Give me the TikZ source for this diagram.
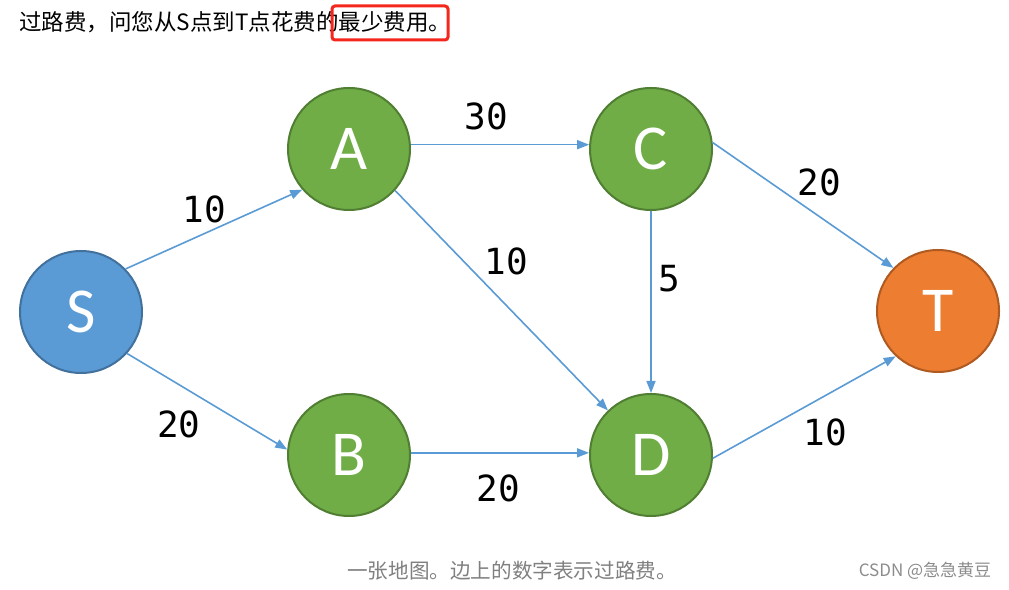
\documentclass[tikz,border=0pt]{standalone}
\usepackage{fontspec}
\setmainfont{Noto Sans CJK SC}
\newfontfamily\letterfont{Carlito}
\newfontfamily\numfont{DejaVu Sans Mono}
\usetikzlibrary{arrows.meta}
\definecolor{sblue}{HTML}{5B9BD5}
\definecolor{sblueline}{HTML}{41719C}
\definecolor{vgreen}{HTML}{70AD47}
\definecolor{vgreenline}{HTML}{507E32}
\definecolor{torange}{HTML}{ED7D31}
\definecolor{torangeline}{HTML}{AE5A21}
\definecolor{boxred}{HTML}{F5271C}

\begin{document}
\begin{tikzpicture}[x=1pt,y=1pt,>={Triangle[length=12pt,width=9pt]}]
            \tikzstyle{m}=[circle,draw,line width=2pt,minimum size=122pt,inner sep=0pt,text=white,font=\letterfont\fontsize{64}{64}\selectfont]
            \tikzstyle{g}=[m,fill=vgreen,draw=vgreenline]
            \tikzstyle{lbl}=[font=\numfont\fontsize{36}{36}\selectfont]
            \tikzstyle{lnk}=[->,sblue,line width=1.6pt]

            \fill[white] (0,0) rectangle (1009,589);
            \useasboundingbox (0,0) rectangle (1009,589);

            \node [anchor=west,inner sep=0pt,font=\fontsize{22.5}{22.5}\selectfont] (title) at (19,567) {过路费，问您从S点到T点花费的最少费用。};
            \draw [boxred,line width=3pt,rounded corners=3pt] (332,549) rectangle (448,583);

            \node [m,fill=sblue,draw=sblueline] (s) at (81,277) {S};
            \node [g] (a) at (349,440) {A};
            \node [g] (c) at (651,440) {C};
            \node [g] (b) at (349,134) {B};
            \node [g] (d) at (651,134) {D};
            \node [m,fill=torange,draw=torangeline] (t) at (938,278) {T};

            \draw [lnk] (s.44) -- (a.221);
            \draw [lnk] (s.318) -- (b.175);
            \draw [lnk] (a.4) -- (c.176);
            \draw [lnk] (a.318) -- (d.134);
            \draw [lnk] (c) -- (d);
            \draw [lnk] (c.6) -- (t.136);
            \draw [lnk] (b.2) -- (d.178);
            \draw [lnk] (d.357) -- (t.227);

            \node [lbl] (sa) at (204,380) {10};
            \node [lbl] (sb) at (179,165) {20};
            \node [lbl] (ac) at (486,473) {30};
            \node [lbl] (ad) at (506,328) {10};
            \node [lbl] (cd) at (669,310) {5};
            \node [lbl] (ct) at (819,407) {20};
            \node [lbl] (bd) at (498,101) {20};
            \node [lbl] (dt) at (825,157) {10};

            \node [text=black!50,font=\fontsize{20.6}{20.6}\selectfont] (caption) at (512,18) {一张地图。边上的数字表示过路费。};
            \node [text=black!45,font=\fontsize{17}{17}\selectfont] (mark) at (925,18) {CSDN @急急黄豆};
        \end{tikzpicture}
\end{document}
